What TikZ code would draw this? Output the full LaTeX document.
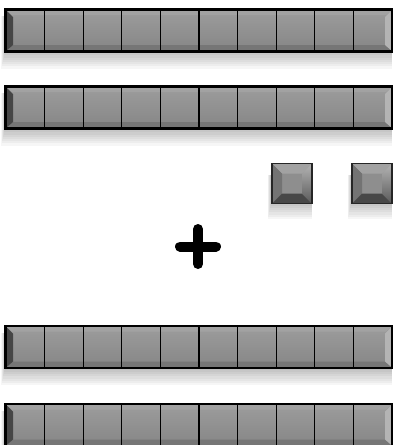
\documentclass[tikz,border=0pt]{standalone}
\usetikzlibrary{calc}
\definecolor{facetop}{HTML}{9C9C9C}
\definecolor{facebot}{HTML}{868686}
\definecolor{bevtop}{HTML}{A2A2A2}
\definecolor{bevbot}{HTML}{767676}
\definecolor{bevleft}{HTML}{464646}
\definecolor{bevright}{HTML}{B4B4B4}
\definecolor{sqface}{HTML}{8E8E8E}
\begin{document}
\begin{tikzpicture}[x=1pt,y=-1pt,
  cell/.style={draw=black,line width=1.1pt,minimum width=38.6pt,minimum height=41pt,inner sep=0pt},
  tile/.style={draw=black!85,line width=1.2pt,minimum size=40pt,inner sep=0pt},
  dropshadow/.style={fill=black,opacity=0.035},
  plusbar/.style={line width=10pt,line cap=round}]
\useasboundingbox (0,0) rectangle (393,445);

% ---------- bars of ten cells ----------
\foreach \r/\yc in {1/30.5,2/107.5,3/347,4/425}{
  \pgfmathsetmacro\tp{\yc-20.5}
  \pgfmathsetmacro\bt{\yc+20.5}
  % shadow
  \foreach \k in {1,...,8}
    \fill[dropshadow] (5-0.5*\k,\tp+6) rectangle (392,\bt+2.2*\k);
  % face and bevels
  \shade[top color=facetop,bottom color=facebot] (6,\tp) rectangle (392,\bt);
  \fill[bevtop] (6,\tp) -- (392,\tp) -- (386,\tp+5) -- (12,\tp+5) -- cycle;
  \fill[bevbot] (6,\bt) -- (392,\bt) -- (386,\bt-6) -- (12,\bt-6) -- cycle;
  \fill[bevleft] (6,\tp) -- (13,\tp+7) -- (13,\bt-6) -- (6,\bt) -- cycle;
  \fill[bevright] (392,\tp) -- (385,\tp+7) -- (385,\bt-6) -- (392,\bt) -- cycle;
  \foreach \c in {1,...,10}
    \node[cell] (row\r-\c) at ({6+38.6*(\c-0.5)},\yc) {};
  \draw[line width=2.6pt] (row\r-1.north west) rectangle (row\r-10.south east);
}

% ---------- two single cells ----------
\foreach \n/\xc in {1/292,2/372}{
  \foreach \k in {1,...,7}
    \fill[dropshadow] (\xc-21-0.5*\k,175) rectangle (\xc+20,203.5+2.2*\k);
  \fill[sqface] (\xc-20,163.5) rectangle (\xc+20,203.5);
  \fill[bevtop] (\xc-20,163.5) -- (\xc+20,163.5) -- (\xc+10,173.5) -- (\xc-10,173.5) -- cycle;
  \fill[black!55] (\xc-20,163.5) -- (\xc-10,173.5) -- (\xc-10,193.5) -- (\xc-20,203.5) -- cycle;
  \fill[black!72] (\xc-20,203.5) -- (\xc+20,203.5) -- (\xc+10,193.5) -- (\xc-10,193.5) -- cycle;
  \shade[top color=bevright,bottom color=black!65] (\xc+20,163.5) -- (\xc+10,173.5) -- (\xc+10,193.5) -- (\xc+20,203.5) -- cycle;
  \node[tile] (single\n) at (\xc,183.5) {};
}

% ---------- plus sign ----------
\coordinate (plus) at (198,246.5);
\draw[plusbar] ([xshift=-18pt]plus) -- ([xshift=18pt]plus);
\draw[plusbar] ([yshift=-17.5pt]plus) -- ([yshift=17.5pt]plus);
\end{tikzpicture}
\end{document}
